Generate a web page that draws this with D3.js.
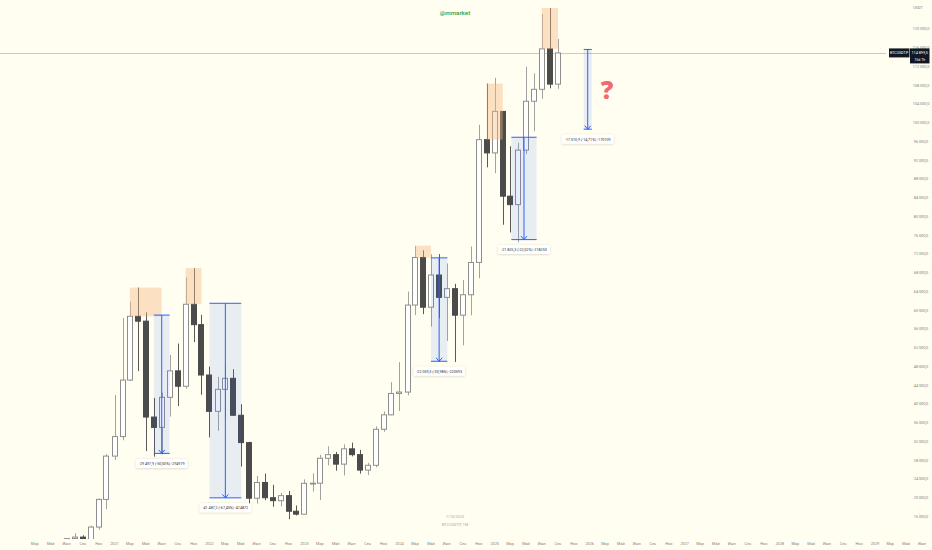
<!DOCTYPE html>
<html><head><meta charset="utf-8">
<script src="https://cdn.jsdelivr.net/npm/d3@7"></script>
<style>body{margin:0;background:#fffef0;overflow:hidden}svg{display:block}</style>
</head><body>
<svg id="c" width="932" height="550"></svg>
<script>
// ---------- DATA (BTCUSDT.P, monthly) ----------
const months = ["2020-01","2020-02","2020-03","2020-04","2020-05","2020-06","2020-07","2020-08","2020-09","2020-10","2020-11","2020-12",
"2021-01","2021-02","2021-03","2021-04","2021-05","2021-06","2021-07","2021-08","2021-09","2021-10","2021-11","2021-12",
"2022-01","2022-02","2022-03","2022-04","2022-05","2022-06","2022-07","2022-08","2022-09","2022-10","2022-11","2022-12",
"2023-01","2023-02","2023-03","2023-04","2023-05","2023-06","2023-07","2023-08","2023-09","2023-10","2023-11","2023-12",
"2024-01","2024-02","2024-03","2024-04","2024-05","2024-06","2024-07","2024-08","2024-09","2024-10","2024-11","2024-12",
"2025-01","2025-02","2025-03","2025-04","2025-05","2025-06","2025-07","2025-08","2025-09"];
const open = [7195,9351,8600,6412,8620,9448,9138,11335,11649,10776,13791,19695,
28923,33092,45134,58739,57697,37253,35045,41461,47100,43820,61300,56950,
46216,38466,43160,45510,37631,31801,19942,23296,20048,19423,20491,17165,
16542,23125,23142,28465,29233,27210,30472,29232,25940,26962,34640,37723,
42283,42580,61131,71280,60672,67540,62772,64628,58974,63328,70216,96408,
93576,102429,84350,82550,94172,104592,107136,115764,108246];
const high = [9578,10500,9189,9468,10067,10380,11444,12468,12050,14100,19863,29300,
41950,58352,61844,64854,59592,41330,42448,50500,52920,67000,69000,59053,
47990,45821,48189,47444,39980,31986,24668,25211,22799,21085,21480,18387,
23960,25250,29184,31000,29820,31431,31804,30244,27483,35280,38450,44700,
48970,64000,73777,72797,71979,71998,70016,65660,66498,73620,99588,108353,
109588,102500,95000,95758,111980,110530,123218,124474,117900];
const low = [6871,8445,3782,6150,8117,8833,8893,10518,9825,10374,13195,17572,
28130,32296,44950,47044,30000,28805,29278,37332,39600,43283,53256,42000,
32917,34322,37155,37578,26700,17622,18782,19520,18125,18190,15476,16256,
16499,21351,19549,26942,25811,24800,28861,25166,24901,26538,34097,37630,
38555,41884,59005,59191,56552,58402,53485,49000,52550,58946,66835,90500,
89256,78258,76606,74508,93346,98200,105100,107350,107255];
const close = [9350,8600,6410,8620,9448,9138,11335,11649,10776,13791,19695,28923,
33092,45135,58740,57694,37254,35045,41461,47100,43824,61300,56950,46216,
38466,43160,45510,37630,31801,19942,23293,20050,19422,20490,17164,16542,
23125,23142,28465,29233,27210,30472,29232,25941,26962,34639,37723,42283,
42580,61131,71280,60672,67540,62772,64628,58974,63328,70215,96408,93576,
102429,84350,82550,94172,104591,107135,115764,108246,114899.5];

// price axis ticks
const priceTicks = d3.range(16000, 120001, 4000);
// time axis tick labels
const ruMonths = ["Янв","Фев","Мар","Апр","Май","Июн","Июл","Авг","Сен","Окт","Ноя","Дек"];
const axisStart = "2020-03-01", axisEnd = "2029-07-02";

// highlighted tops (orange zones)
const hlFrom   = ["2021-03-01","2021-10-01","2024-03-01","2024-12-01","2025-07-01"];
const hlTo     = ["2021-07-01","2021-12-01","2024-05-01","2025-02-01","2025-09-01"];
const hlTop    = [64854, 69000, 73777, 108353, 124474];
const hlBottom = [58740, 61300, 71280, 96408, 115764];

// price-range measurements (blue)
const mFrom   = ["2021-06-01","2022-01-01","2024-05-01","2025-03-06","2025-12-09"];
const mTo     = ["2021-08-01","2022-05-03","2024-07-03","2025-06-11","2026-01-09"];
const mTop    = [58995.8, 61508.4, 71200, 96915, 115641];
const mBottom = [29497.9, 20021.2, 49140.7, 75089.7, 98630.1];

const symbol = "BTCUSDT.P", watermark = "@mmarket", dateText = "1/10/2025", tfText = "BTCUSDT.P, 1M", countdown = "15d 7h";

// ---------- DRAW ----------
const svg = d3.select("#c");
const W = 932, H = 550, plotR = 886, plotB = 539;
const P = s => { const [a,b,c] = s.split("-").map(Number); return new Date(Date.UTC(a,b-1,c||1)); };
const loc = d3.formatLocale({decimal:",", thousands:" ", grouping:[3], currency:["",""], minus:"-"});
const f1 = loc.format(",.1f"), f2 = loc.format(".2f");

const x = d3.scaleUtc().domain([P("2021-01-01"), P("2025-01-01")]).range([114.5, 494.7]);
const y = d3.scaleLinear().domain([16000, 120000]).range([516.7, 29]);

svg.append("rect").attr("width",W).attr("height",H).attr("fill","#fffef0");
const defs = svg.append("defs");
defs.append("clipPath").attr("id","plot").append("rect").attr("x",0).attr("y",0).attr("width",plotR).attr("height",plotB);
const sh = defs.append("filter").attr("id","sh").attr("x","-20%").attr("y","-40%").attr("width","140%").attr("height","180%");
sh.append("feDropShadow").attr("dx",0).attr("dy",0.5).attr("stdDeviation",0.8).attr("flood-color","#000").attr("flood-opacity",0.18);

const g = svg.append("g").attr("clip-path","url(#plot)");

// watermark
svg.append("text").attr("x",455).attr("y",14.5).attr("text-anchor","middle")
  .attr("font-family","Roboto, 'Noto Sans', sans-serif").attr("font-size",6.2).attr("font-weight",600)
  .attr("fill","#46a546").text(watermark);
svg.append("text").attr("x",455).attr("y",517.5).attr("text-anchor","middle")
  .attr("font-family","Roboto, sans-serif").attr("font-size",3.8).attr("fill","#a9a9a9").text(dateText);
svg.append("text").attr("x",455).attr("y",525.5).attr("text-anchor","middle")
  .attr("font-family","Roboto, sans-serif").attr("font-size",3.8).attr("fill","#a9a9a9").text(tfText);

// price line
const last = close[close.length-1];
g.append("line").attr("x1",0).attr("x2",plotR).attr("y1",Math.round(y(last))+0.5).attr("y2",Math.round(y(last))+0.5)
  .attr("stroke","#bdbdbd").attr("stroke-width",0.8);

// candles
const bw = 6;
const cg = g.append("g");
months.forEach((m,i) => {
  const cx = Math.round(x(P(m)));
  const up = close[i] >= open[i];
  cg.append("line").attr("x1",cx+0.5).attr("x2",cx+0.5).attr("y1",y(high[i])).attr("y2",y(low[i]))
    .attr("stroke", up ? "#a3a3a3" : "#595959").attr("stroke-width",1);
  const t = y(Math.max(open[i],close[i])), b = y(Math.min(open[i],close[i]));
  cg.append("rect").attr("x",cx-2.5).attr("y",t).attr("width",bw-1).attr("height",Math.max(0.8,b-t))
    .attr("fill", up ? "#ffffff" : "#4b4b4b").attr("stroke", up ? "#8e8e8e" : "#4b4b4b").attr("stroke-width",1);
});

// orange zones
hlFrom.forEach((d,i) => {
  g.append("rect").attr("x",x(P(d))).attr("y",y(hlTop[i]))
    .attr("width",x(P(hlTo[i]))-x(P(d))).attr("height",y(hlBottom[i])-y(hlTop[i]))
    .attr("fill","#f5b77a").attr("opacity",0.4);
});

// blue measurements
const blue = "#2962ff";
mFrom.forEach((d,i) => {
  const x0 = x(P(d)), x1 = x(P(mTo[i])), yt = y(mTop[i]), yb = y(mBottom[i]), xm = (x0+x1)/2;
  g.append("rect").attr("x",x0).attr("y",yt).attr("width",x1-x0).attr("height",yb-yt)
    .attr("fill",blue).attr("opacity",0.11);
  g.append("line").attr("x1",x0).attr("x2",x1).attr("y1",yt).attr("y2",yt).attr("stroke",blue).attr("stroke-width",1);
  g.append("line").attr("x1",x0).attr("x2",x1).attr("y1",yb).attr("y2",yb).attr("stroke",blue).attr("stroke-width",1);
  g.append("line").attr("x1",xm).attr("x2",xm).attr("y1",yt).attr("y2",yb).attr("stroke",blue).attr("stroke-width",1);
  g.append("path").attr("d",`M${xm-3},${yb-3.5}L${xm},${yb}L${xm+3},${yb-3.5}`).attr("fill","none").attr("stroke",blue).attr("stroke-width",1);
  const diff = mBottom[i]-mTop[i];
  const txt = `${f1(diff)} (${f2(diff/mTop[i]*100)}%) ${Math.round(diff*10)}`;
  const lg = g.append("g");
  const tx = lg.append("text").attr("x",xm).attr("y",yb+11.3).attr("text-anchor","middle")
    .attr("font-family","Roboto, sans-serif").attr("font-size",3.7).attr("fill","#2a2e39").text(txt);
  const tw = tx.node().getComputedTextLength();
  lg.insert("rect","text").attr("x",xm-tw/2-3).attr("y",yb+5.5).attr("width",tw+6).attr("height",9)
    .attr("rx",1.5).attr("fill","#ffffff").attr("filter","url(#sh)");
});

// question mark
svg.append("text").attr("x",607).attr("y",99).attr("text-anchor","middle")
  .attr("font-family","'Open Sans', Roboto, sans-serif").attr("font-size",25).attr("font-weight",800)
  .attr("fill","#ef6a72").text("?");

// price axis
const ax = svg.append("g").attr("font-family","Roboto, sans-serif").attr("font-size",3.8).attr("fill","#7d7f88");
ax.append("text").attr("x",918).attr("y",8.5).attr("text-anchor","middle").text("USDT");
priceTicks.forEach(v => {
  ax.append("text").attr("x",921).attr("y",y(v)+1.3).attr("text-anchor","middle").text(f1(v));
});
// price label
const py = y(last);
svg.append("rect").attr("x",889).attr("y",py-4.5).attr("width",20.5).attr("height",9).attr("fill","#131722");
svg.append("text").attr("x",899.2).attr("y",py+1.3).attr("text-anchor","middle").attr("font-family","Roboto, sans-serif")
  .attr("font-size",3.6).attr("fill","#fff").text(symbol);
svg.append("rect").attr("x",910).attr("y",py-4.5).attr("width",19.5).attr("height",15).attr("fill","#131722");
svg.append("text").attr("x",919.7).attr("y",py+1.3).attr("text-anchor","middle").attr("font-family","Roboto, sans-serif")
  .attr("font-size",3.8).attr("fill","#fff").text(f1(last));
svg.append("text").attr("x",919.7).attr("y",py+7.6).attr("text-anchor","middle").attr("font-family","Roboto, sans-serif")
  .attr("font-size",3.6).attr("fill","#fff").text(countdown);

// time axis
const tickDates = d3.utcMonth.every(2).range(P(axisStart), P(axisEnd));
const tx = svg.append("g").attr("font-family","Roboto, sans-serif").attr("font-size",3.8).attr("fill","#7d7f88");
tickDates.forEach(d => {
  tx.append("text").attr("x",x(d)).attr("y",545.3).attr("text-anchor","middle")
    .text(d.getUTCMonth()===0 ? String(d.getUTCFullYear()) : ruMonths[d.getUTCMonth()]);
});
</script>
</body></html>
